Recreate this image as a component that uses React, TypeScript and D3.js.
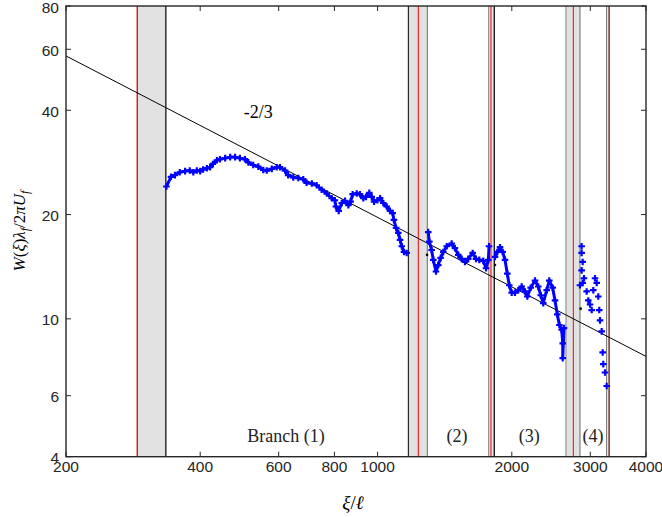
import { useEffect, useRef } from "react"
import * as d3 from "d3"

// values (xi/l , W)
const branch1: [number, number][] = [
  [336, 24.1], [344, 25.7], [351, 26.0], [360, 26.5], [370, 26.7], [379, 26.8], [386, 26.5],
  [393, 26.8], [400, 26.7], [406, 27.0], [414, 27.2], [421, 27.4], [427, 28.0], [436, 28.7],
  [443, 28.9], [455, 29.1], [467, 29.3], [479, 29.3], [491, 29.1], [504, 28.9], [513, 28.3],
  [526, 27.8], [540, 27.5], [554, 26.9], [564, 26.8], [579, 27.1], [594, 27.4], [604, 27.4],
  [620, 26.8], [630, 26.0], [647, 25.6], [664, 25.5], [681, 25.3], [693, 24.7], [712, 24.6],
  [730, 24.3], [749, 23.6], [769, 23.0], [789, 22.3], [802, 22.0], [806, 21.1], [818, 20.5],
  [831, 21.6], [845, 21.9], [860, 21.3], [870, 21.8], [879, 22.9], [898, 23.0], [913, 22.9],
  [929, 22.3], [942, 22.5], [958, 23.1], [970, 22.5], [982, 21.8], [999, 22.0], [1013, 22.3],
  [1030, 21.6], [1048, 21.1], [1066, 20.5], [1081, 20.2], [1088, 19.3], [1100, 18.3],
  [1113, 17.7], [1123, 16.9], [1133, 16.2], [1146, 15.6], [1162, 15.5],
]
const branch2: [number, number][] = [
  [1299, 17.8], [1306, 16.7], [1322, 15.8], [1333, 14.8], [1352, 13.7], [1368, 14.3],
  [1385, 15.0], [1404, 15.6], [1429, 16.2], [1466, 16.5], [1491, 16.0], [1517, 15.3],
  [1544, 14.9], [1570, 14.6], [1597, 14.9], [1634, 15.5], [1662, 14.9], [1691, 14.8],
  [1726, 14.7], [1751, 14.0], [1772, 14.8], [1778, 16.2],
]
const branch3: [number, number][] = [
  [1834, 15.1], [1856, 15.6], [1882, 16.1], [1908, 15.6], [1931, 14.8], [1954, 13.5],
  [1974, 12.5], [1999, 11.9], [2033, 11.9], [2068, 12.1], [2105, 12.4], [2141, 12.0],
  [2167, 11.6], [2205, 12.3], [2255, 12.9], [2293, 12.4], [2322, 11.7], [2353, 11.1],
  [2395, 12.1], [2427, 12.9], [2470, 12.3], [2500, 11.3], [2530, 10.3], [2557, 9.6],
  [2588, 9.3], [2602, 8.5], [2602, 7.7], [2619, 9.4],
]
const branch4: [number, number][] = [
  [2869, 16.2], [2869, 15.5], [2884, 14.6], [2869, 13.8], [2904, 13.1], [2884, 12.7],
  [2844, 12.5], [2944, 12.0], [2969, 11.3], [2996, 11.0], [3022, 10.6], [3047, 12.1],
  [3074, 13.1], [3101, 12.7], [3126, 11.6], [3142, 10.6], [3154, 9.9], [3182, 9.2],
  [3198, 8.0], [3208, 7.4], [3236, 7.0], [3265, 6.4],
]
const edgePoints: [number, number][] = [[1291, 15.3], [1834, 14.3], [2854, 10.7]]

// shaded gaps between branches
const bandStart = [289, 1172, 1775, 2646, 3262]
const bandEnd = [335, 1293, 1827, 2844, 3300]
const bandLeftColor = ["#cc0000", "#000000", "#808080", "#808080", "#808080"]
const bandRightColor = ["#000000", "#808080", "#000000", "#808080", "#808080"]
const redLines = [289, 1234, 1796, 2748, 3310]

const slopeLine: [number, number][] = [[200, 57.4], [4000, 7.79]]

const xTicks = [200, 400, 600, 800, 1000, 2000, 3000, 4000]
const yTicks = [4, 6, 10, 20, 40, 60, 80]

const branchLabels = ["Branch (1)", "(2)", "(3)", "(4)"]
const branchLabelXi = [623, 1507, 2188, 3042]

const App = () => {
  const ref = useRef<SVGSVGElement | null>(null)
  const width = 662, height = 517
  const left = 66, right = 646, top = 6, bottom = 456.7

  useEffect(() => {
    const svg = d3.select(ref.current)
    svg.selectAll("*").remove()

    const x = d3.scaleLog().domain([200, 4000]).range([left, right])
    const y = d3.scaleLog().domain([4, 80]).range([bottom, top])

    svg.append("defs").append("clipPath").attr("id", "plotClip")
      .append("rect").attr("x", left).attr("y", top)
      .attr("width", right - left).attr("height", bottom - top)

    const plot = svg.append("g").attr("clip-path", "url(#plotClip)")

    // bands
    plot.selectAll(".band").data(bandStart).enter().append("rect")
      .attr("x", d => x(d))
      .attr("y", top)
      .attr("width", (d, i) => x(bandEnd[i]) - x(d))
      .attr("height", bottom - top)
      .attr("fill", "#e2e2e2")
    plot.selectAll(".bandL").data(bandStart).enter().append("line")
      .attr("x1", d => x(d)).attr("x2", d => x(d))
      .attr("y1", top).attr("y2", bottom)
      .attr("stroke", (d, i) => bandLeftColor[i]).attr("stroke-width", 1)
    plot.selectAll(".bandR").data(bandEnd).enter().append("line")
      .attr("x1", d => x(d)).attr("x2", d => x(d))
      .attr("y1", top).attr("y2", bottom)
      .attr("stroke", (d, i) => bandRightColor[i]).attr("stroke-width", 1.2)
    plot.selectAll(".red").data(redLines).enter().append("line")
      .attr("x1", d => x(d)).attr("x2", d => x(d))
      .attr("y1", top).attr("y2", bottom)
      .attr("stroke", "#ff0000").attr("stroke-width", 1)

    // -2/3 slope line
    plot.append("path")
      .datum(slopeLine)
      .attr("fill", "none")
      .attr("stroke", "#000")
      .attr("stroke-width", 1)
      .attr("d", d3.line<[number, number]>().x(d => x(d[0])).y(d => y(d[1])))

    // dense marker chains: a thin trail under the markers
    const trail = d3.line<[number, number]>().x(d => x(d[0])).y(d => y(d[1]))
    plot.selectAll(".trail").data([branch1, branch2, branch3]).enter().append("path")
      .attr("d", d => trail(d))
      .attr("fill", "none")
      .attr("stroke", "#0000ff")
      .attr("stroke-width", 3)
      .attr("stroke-linejoin", "round")

    // data markers
    const cross = d3.symbol().type(d3.symbolCross).size(24)
    const all = [...branch1, ...branch2, ...branch3, ...branch4]
    plot.selectAll(".pt").data(all).enter().append("path")
      .attr("d", cross)
      .attr("transform", d => `translate(${x(d[0])},${y(d[1])})`)
      .attr("fill", "#0000ff")
    plot.selectAll(".ept").data(edgePoints).enter().append("circle")
      .attr("cx", d => x(d[0])).attr("cy", d => y(d[1])).attr("r", 1.3)
      .attr("fill", "#000")

    // frame
    svg.append("rect")
      .attr("x", left).attr("y", top)
      .attr("width", right - left).attr("height", bottom - top)
      .attr("fill", "none").attr("stroke", "#262626").attr("stroke-width", 1.4)

    const tk = 5
    const axisColor = "#262626"
    xTicks.forEach(t => {
      svg.append("line").attr("x1", x(t)).attr("x2", x(t))
        .attr("y1", bottom).attr("y2", bottom - tk).attr("stroke", axisColor)
      svg.append("line").attr("x1", x(t)).attr("x2", x(t))
        .attr("y1", top).attr("y2", top + tk).attr("stroke", axisColor)
      svg.append("text")
        .attr("x", x(t)).attr("y", bottom + 15)
        .attr("text-anchor", "middle")
        .attr("font-family", "Liberation Sans, Arial, sans-serif")
        .attr("font-size", 15.5)
        .attr("fill", axisColor)
        .text(t)
    })
    yTicks.forEach(t => {
      svg.append("line").attr("x1", left).attr("x2", left + tk)
        .attr("y1", y(t)).attr("y2", y(t)).attr("stroke", axisColor)
      svg.append("line").attr("x1", right).attr("x2", right - tk)
        .attr("y1", y(t)).attr("y2", y(t)).attr("stroke", axisColor)
      svg.append("text")
        .attr("x", left - 7).attr("y", y(t) + 6.5)
        .attr("text-anchor", "end")
        .attr("font-family", "Liberation Sans, Arial, sans-serif")
        .attr("font-size", 15.5)
        .attr("fill", axisColor)
        .text(t)
    })

    // annotations
    const serif = "Liberation Serif, DejaVu Serif, serif"
    svg.append("text").attr("x", x(540)).attr("y", y(38))
      .attr("text-anchor", "middle").attr("font-family", serif).attr("font-size", 18)
      .text("-2/3")
    branchLabels.forEach((lab, i) => {
      svg.append("text").attr("x", x(branchLabelXi[i])).attr("y", y(4.42))
        .attr("text-anchor", "middle").attr("font-family", serif).attr("font-size", 18)
        .attr("fill", "#222")
        .text(lab)
    })

    // axis titles
    const xl = svg.append("text").attr("x", 353).attr("y", 509)
      .attr("text-anchor", "middle").attr("font-family", serif).attr("font-size", 19)
      .attr("font-style", "italic")
    xl.append("tspan").text("ξ")
    xl.append("tspan").attr("font-style", "normal").text("/")
    xl.append("tspan").text("ℓ")

    const yl = svg.append("text")
      .attr("transform", "translate(25,231) rotate(-90)")
      .attr("text-anchor", "middle").attr("font-family", serif).attr("font-size", 17)
    yl.append("tspan").attr("font-style", "italic").text("W")
    yl.append("tspan").text("(")
    yl.append("tspan").attr("font-style", "italic").text("ξ")
    yl.append("tspan").text(")")
    yl.append("tspan").attr("font-style", "italic").text("λ")
    yl.append("tspan").attr("font-style", "italic").attr("font-size", 12).attr("dy", 4).text("f")
    yl.append("tspan").attr("dy", -4).text("/2")
    yl.append("tspan").attr("font-style", "italic").text("πU")
    yl.append("tspan").attr("font-style", "italic").attr("font-size", 12).attr("dy", 4).text("f")
  }, [])

  return (
    <svg ref={ref} width={width} height={height}
      style={{ position: "absolute", left: 0, top: 0, background: "#fff" }} />
  )
}

export default App
